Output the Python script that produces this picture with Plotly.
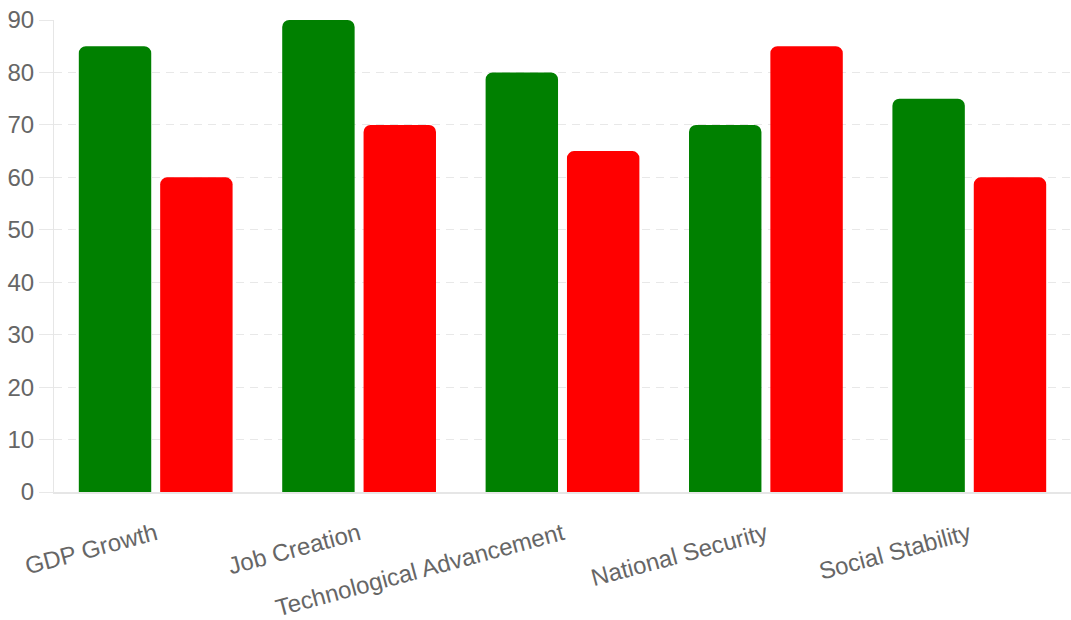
import plotly.graph_objects as go

categories = ["GDP Growth", "Job Creation", "Technological Advancement", "National Security", "Social Stability"]
series_a = [85, 90, 80, 70, 75]
series_b = [60, 70, 65, 85, 60]
series_a_name = "Series A"
series_b_name = "Series B"
y_ticks = [0, 10, 20, 30, 40, 50, 60, 70, 80, 90]

FONT = "Liberation Sans, Helvetica Neue, Arial, sans-serif"

fig = go.Figure()
fig.add_trace(go.Bar(x=categories, y=series_a, name=series_a_name,
                     marker=dict(color="#008000", line=dict(width=0))))
fig.add_trace(go.Bar(x=categories, y=series_b, name=series_b_name,
                     marker=dict(color="#ff0000", line=dict(width=0))))

fig.update_layout(
    width=1071, height=620,
    margin=dict(l=54, r=0, t=20, b=128),
    paper_bgcolor="white", plot_bgcolor="white",
    barmode="group", bargap=0.2, bargroupgap=0.11,
    barcornerradius=7,
    showlegend=False,
    font=dict(family=FONT, size=24, color="#666666"),
)
fig.update_xaxes(
    automargin=False,
    tickangle=-15, showgrid=False, showline=True, linecolor="#e6e6e6", linewidth=2,
    ticks="", ticklabelstandoff=17, ticklabeloverflow="allow",
    tickfont=dict(size=24, color="#666666"),
)
fig.update_yaxes(
    automargin=False,
    range=[0, 90], tickvals=y_ticks, showgrid=True, gridcolor="#e8e8e8",
    griddash="8px,6px", gridwidth=1,
    showline=True, linecolor="#e6e6e6", linewidth=1, zeroline=False,
    ticks="outside", ticklen=14, tickcolor="#e8e8e8",
    ticklabeloverflow="allow",
    tickfont=dict(size=24, color="#666666"),
)

fig.write_html("out.html", config={"displayModeBar": False},
               post_script="document.body.style.margin='0';")
